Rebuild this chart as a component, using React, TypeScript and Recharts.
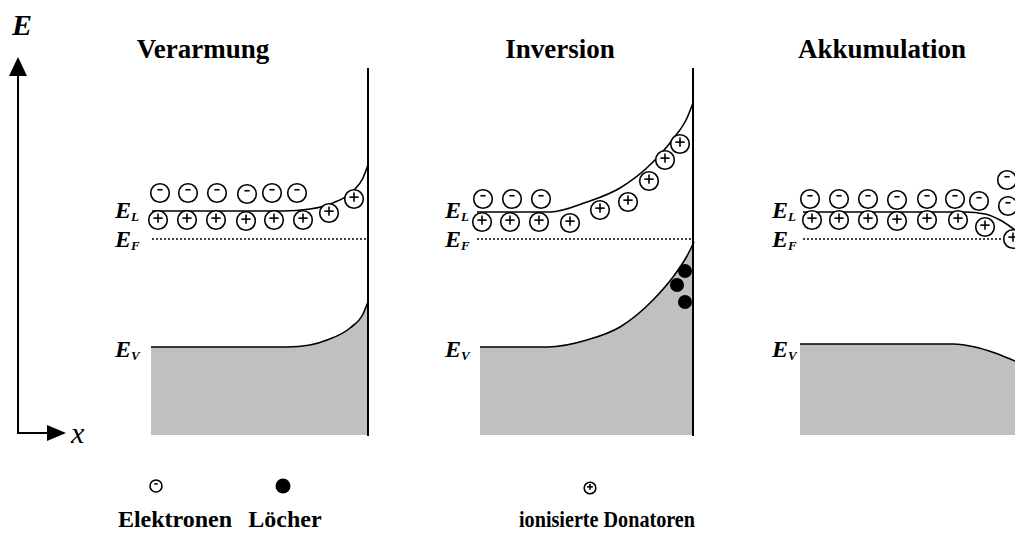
import React from "react";
import { ComposedChart, XAxis, YAxis, Line, Area, Scatter, ReferenceLine } from "recharts";

type Pt = { x: number; y: number };

const titles = ["Verarmung", "Inversion", "Akkumulation"];
const legendLabels = ["Elektronen", "Löcher", "ionisierte Donatoren"];

// band edges (x across, energy downward in px)
const condVerarmung: Pt[] = [
  { x: 152, y: 211 }, { x: 283, y: 211 }, { x: 310, y: 209 }, { x: 333, y: 203 },
  { x: 353, y: 191 }, { x: 363, y: 178 }, { x: 368, y: 165 },
];
const valVerarmung: Pt[] = [
  { x: 151, y: 347 }, { x: 287, y: 347 }, { x: 310, y: 345 }, { x: 327, y: 340 },
  { x: 350, y: 328 }, { x: 363, y: 314 }, { x: 368, y: 302 },
];
const condInversion: Pt[] = [
  { x: 477, y: 212 }, { x: 550, y: 212 }, { x: 587, y: 202 }, { x: 620, y: 188 },
  { x: 653, y: 162 }, { x: 673, y: 139 }, { x: 687, y: 118 }, { x: 693, y: 103 },
];
const valInversion: Pt[] = [
  { x: 480, y: 347 }, { x: 547, y: 347 }, { x: 587, y: 340 }, { x: 620, y: 327 },
  { x: 653, y: 300 }, { x: 673, y: 277 }, { x: 687, y: 256 }, { x: 694, y: 242 },
];
const condAkku: Pt[] = [
  { x: 803, y: 212 }, { x: 965, y: 212 }, { x: 985, y: 214 }, { x: 1000, y: 220 }, { x: 1015, y: 230 },
];
const valAkku: Pt[] = [
  { x: 800, y: 344 }, { x: 953, y: 344 }, { x: 975, y: 347 }, { x: 995, y: 353 }, { x: 1015, y: 361 },
];
const fermi: Pt[][] = [
  [{ x: 152, y: 239 }, { x: 368, y: 239 }],
  [{ x: 477, y: 239 }, { x: 693, y: 239 }],
  [{ x: 803, y: 239 }, { x: 1015, y: 239 }],
];

// carriers
const electrons: Pt[] = [
  { x: 160, y: 193 }, { x: 188, y: 193 }, { x: 217, y: 193 }, { x: 247, y: 194 }, { x: 272, y: 193 }, { x: 297, y: 193 },
  { x: 483, y: 199 }, { x: 512, y: 199 }, { x: 541, y: 199 },
  { x: 810, y: 199 }, { x: 839, y: 199 }, { x: 868, y: 199 }, { x: 897, y: 200 }, { x: 927, y: 199 }, { x: 955, y: 199 },
  { x: 979, y: 201 }, { x: 1007, y: 180 }, { x: 1008, y: 206 },
];
const donors: Pt[] = [
  { x: 158, y: 220 }, { x: 187, y: 220 }, { x: 216, y: 220 }, { x: 246, y: 221 }, { x: 274, y: 220 }, { x: 303, y: 220 },
  { x: 329, y: 213 }, { x: 354, y: 199 },
  { x: 482, y: 222 }, { x: 510, y: 222 }, { x: 539, y: 222 }, { x: 570, y: 223 }, { x: 600, y: 210 },
  { x: 628, y: 202 }, { x: 649, y: 181 }, { x: 665, y: 160 }, { x: 680, y: 144 },
  { x: 812, y: 220 }, { x: 839, y: 220 }, { x: 868, y: 220 }, { x: 897, y: 221 }, { x: 927, y: 220 }, { x: 958, y: 220 },
  { x: 985, y: 227 }, { x: 1013, y: 239 },
];
const holes: Pt[] = [{ x: 685, y: 271 }, { x: 677, y: 285 }, { x: 685, y: 302 }];

const panelLeft = [115, 445, 772];
const titleX = [203, 560, 882];
const levels = [
  { sub: "L", y: 218 },
  { sub: "F", y: 247 },
  { sub: "V", y: 357 },
];

const FONT = '"Liberation Serif", "Times New Roman", serif';
const GRAY = "#c0c0c0";

const Electron = ({ cx, cy, r = 9.3 }: any) => (
  <g>
    <circle cx={cx} cy={cy} r={r} fill="#fff" stroke="#000" strokeWidth={1.6} />
    <line x1={cx - r * 0.28} x2={cx + r * 0.28} y1={cy - r * 0.35} y2={cy - r * 0.35} stroke="#000" strokeWidth={1.6} />
  </g>
);

const Donor = ({ cx, cy, r = 9.3 }: any) => (
  <g>
    <circle cx={cx} cy={cy} r={r} fill="#fff" stroke="#000" strokeWidth={1.6} />
    <line x1={cx - r * 0.5} x2={cx + r * 0.5} y1={cy - r * 0.2} y2={cy - r * 0.2} stroke="#000" strokeWidth={1.6} />
    <line x1={cx} x2={cx} y1={cy - r * 0.7} y2={cy + r * 0.3} stroke="#000" strokeWidth={1.6} />
  </g>
);

const Hole = ({ cx, cy, r = 7 }: any) => <circle cx={cx} cy={cy} r={r} fill="#000" />;

const textPts: any[] = [
  ...titles.map((t, i) => ({ x: titleX[i], y: 58, kind: "title", text: t })),
  ...panelLeft.flatMap((x) => levels.map((l) => ({ x, y: l.y, kind: "level", text: l.sub }))),
  { x: 12, y: 35, kind: "E", text: "E" },
  { x: 71, y: 443, kind: "x", text: "x" },
  { x: 175, y: 527, kind: "legend", text: legendLabels[0] },
  { x: 285, y: 527, kind: "legend", text: legendLabels[1] },
  { x: 607, y: 527, kind: "legend2", text: legendLabels[2] },
];

const TextShape = (p: any) => {
  const { cx, cy, payload } = p;
  const k = payload.kind;
  if (k === "title" || k === "legend")
    return (
      <text x={cx} y={cy} textAnchor="middle" fontFamily={FONT} fontWeight="bold" fontSize={k === "title" ? 27 : 24}>
        {payload.text}
      </text>
    );
  if (k === "legend2")
    return (
      <text x={cx - 88} y={cy} fontFamily={FONT} fontWeight="bold" fontSize={24} textLength={176} lengthAdjust="spacingAndGlyphs">
        {payload.text}
      </text>
    );
  if (k === "level")
    return (
      <text x={cx} y={cy} fontFamily={FONT} fontWeight="bold" fontStyle="italic" fontSize={24}>
        E
        <tspan fontSize={13} dy={3}>{payload.text}</tspan>
      </text>
    );
  if (k === "E")
    return (
      <text x={cx} y={cy} fontFamily={FONT} fontWeight="bold" fontStyle="italic" fontSize={30}>
        E
      </text>
    );
  return (
    <text x={cx} y={cy} fontFamily={FONT} fontStyle="italic" fontSize={30}>
      {payload.text}
    </text>
  );
};

const arrowTips = [
  { x: 18, y: 57, dir: "up" },
  { x: 66, y: 433, dir: "right" },
];
const Arrow = ({ cx, cy, payload }: any) =>
  payload.dir === "up" ? (
    <polygon points={`${cx},${cy} ${cx - 9},${cy + 19} ${cx + 9},${cy + 19}`} fill="#000" />
  ) : (
    <polygon points={`${cx},${cy} ${cx - 19},${cy - 8} ${cx - 19},${cy + 8}`} fill="#000" />
  );

const legendSymbols = [
  { x: 156, y: 486, kind: "e" },
  { x: 283, y: 486, kind: "h" },
  { x: 590, y: 488, kind: "d" },
];
const LegendShape = ({ cx, cy, payload }: any) =>
  payload.kind === "e" ? <Electron cx={cx} cy={cy} r={6} /> : payload.kind === "h" ? <Hole cx={cx} cy={cy} r={7.5} /> : <Donor cx={cx} cy={cy} r={5.8} />;

const bands = [
  { cond: condVerarmung, val: valVerarmung },
  { cond: condInversion, val: valInversion },
  { cond: condAkku, val: valAkku },
];

export default function App() {
  return (
    <div style={{ position: "absolute", left: 0, top: 0, background: "#fff" }}>
      <ComposedChart width={1015} height={544} margin={{ top: 0, right: 0, bottom: 0, left: 0 }}>
        <XAxis type="number" dataKey="x" domain={[0, 1015]} hide allowDataOverflow />
        <YAxis type="number" dataKey="y" domain={[0, 544]} reversed hide allowDataOverflow />
        {bands.map((b, i) => (
          <Area
            key={"v" + i}
            data={b.val}
            dataKey="y"
            type="monotone"
            baseValue={435}
            fill={GRAY}
            fillOpacity={1}
            stroke="#000"
            strokeWidth={1.6}
            isAnimationActive={false}
          />
        ))}
        {bands.map((b, i) => (
          <Line key={"c" + i} data={b.cond} dataKey="y" type="monotone" stroke="#000" strokeWidth={1.6} dot={false} isAnimationActive={false} />
        ))}
        {fermi.map((f, i) => (
          <Line key={"f" + i} data={f} dataKey="y" stroke="#000" strokeWidth={1.6} strokeDasharray="2 2" dot={false} isAnimationActive={false} />
        ))}
        <ReferenceLine segment={[{ x: 368, y: 68 }, { x: 368, y: 436 }]} stroke="#000" strokeWidth={2} ifOverflow="visible" />
        <ReferenceLine segment={[{ x: 693, y: 68 }, { x: 693, y: 436 }]} stroke="#000" strokeWidth={2} ifOverflow="visible" />
        <ReferenceLine segment={[{ x: 18, y: 434 }, { x: 18, y: 70 }]} stroke="#000" strokeWidth={2} ifOverflow="visible" />
        <ReferenceLine segment={[{ x: 17, y: 433 }, { x: 52, y: 433 }]} stroke="#000" strokeWidth={2} ifOverflow="visible" />
        <Scatter data={arrowTips} shape={Arrow} isAnimationActive={false} />
        <Scatter data={electrons} shape={(p: any) => <Electron cx={p.cx} cy={p.cy} />} isAnimationActive={false} />
        <Scatter data={donors} shape={(p: any) => <Donor cx={p.cx} cy={p.cy} />} isAnimationActive={false} />
        <Scatter data={holes} shape={(p: any) => <Hole cx={p.cx} cy={p.cy} />} isAnimationActive={false} />
        <Scatter data={legendSymbols} shape={LegendShape} isAnimationActive={false} />
        <Scatter data={textPts} shape={TextShape} isAnimationActive={false} />
      </ComposedChart>
    </div>
  );
}
